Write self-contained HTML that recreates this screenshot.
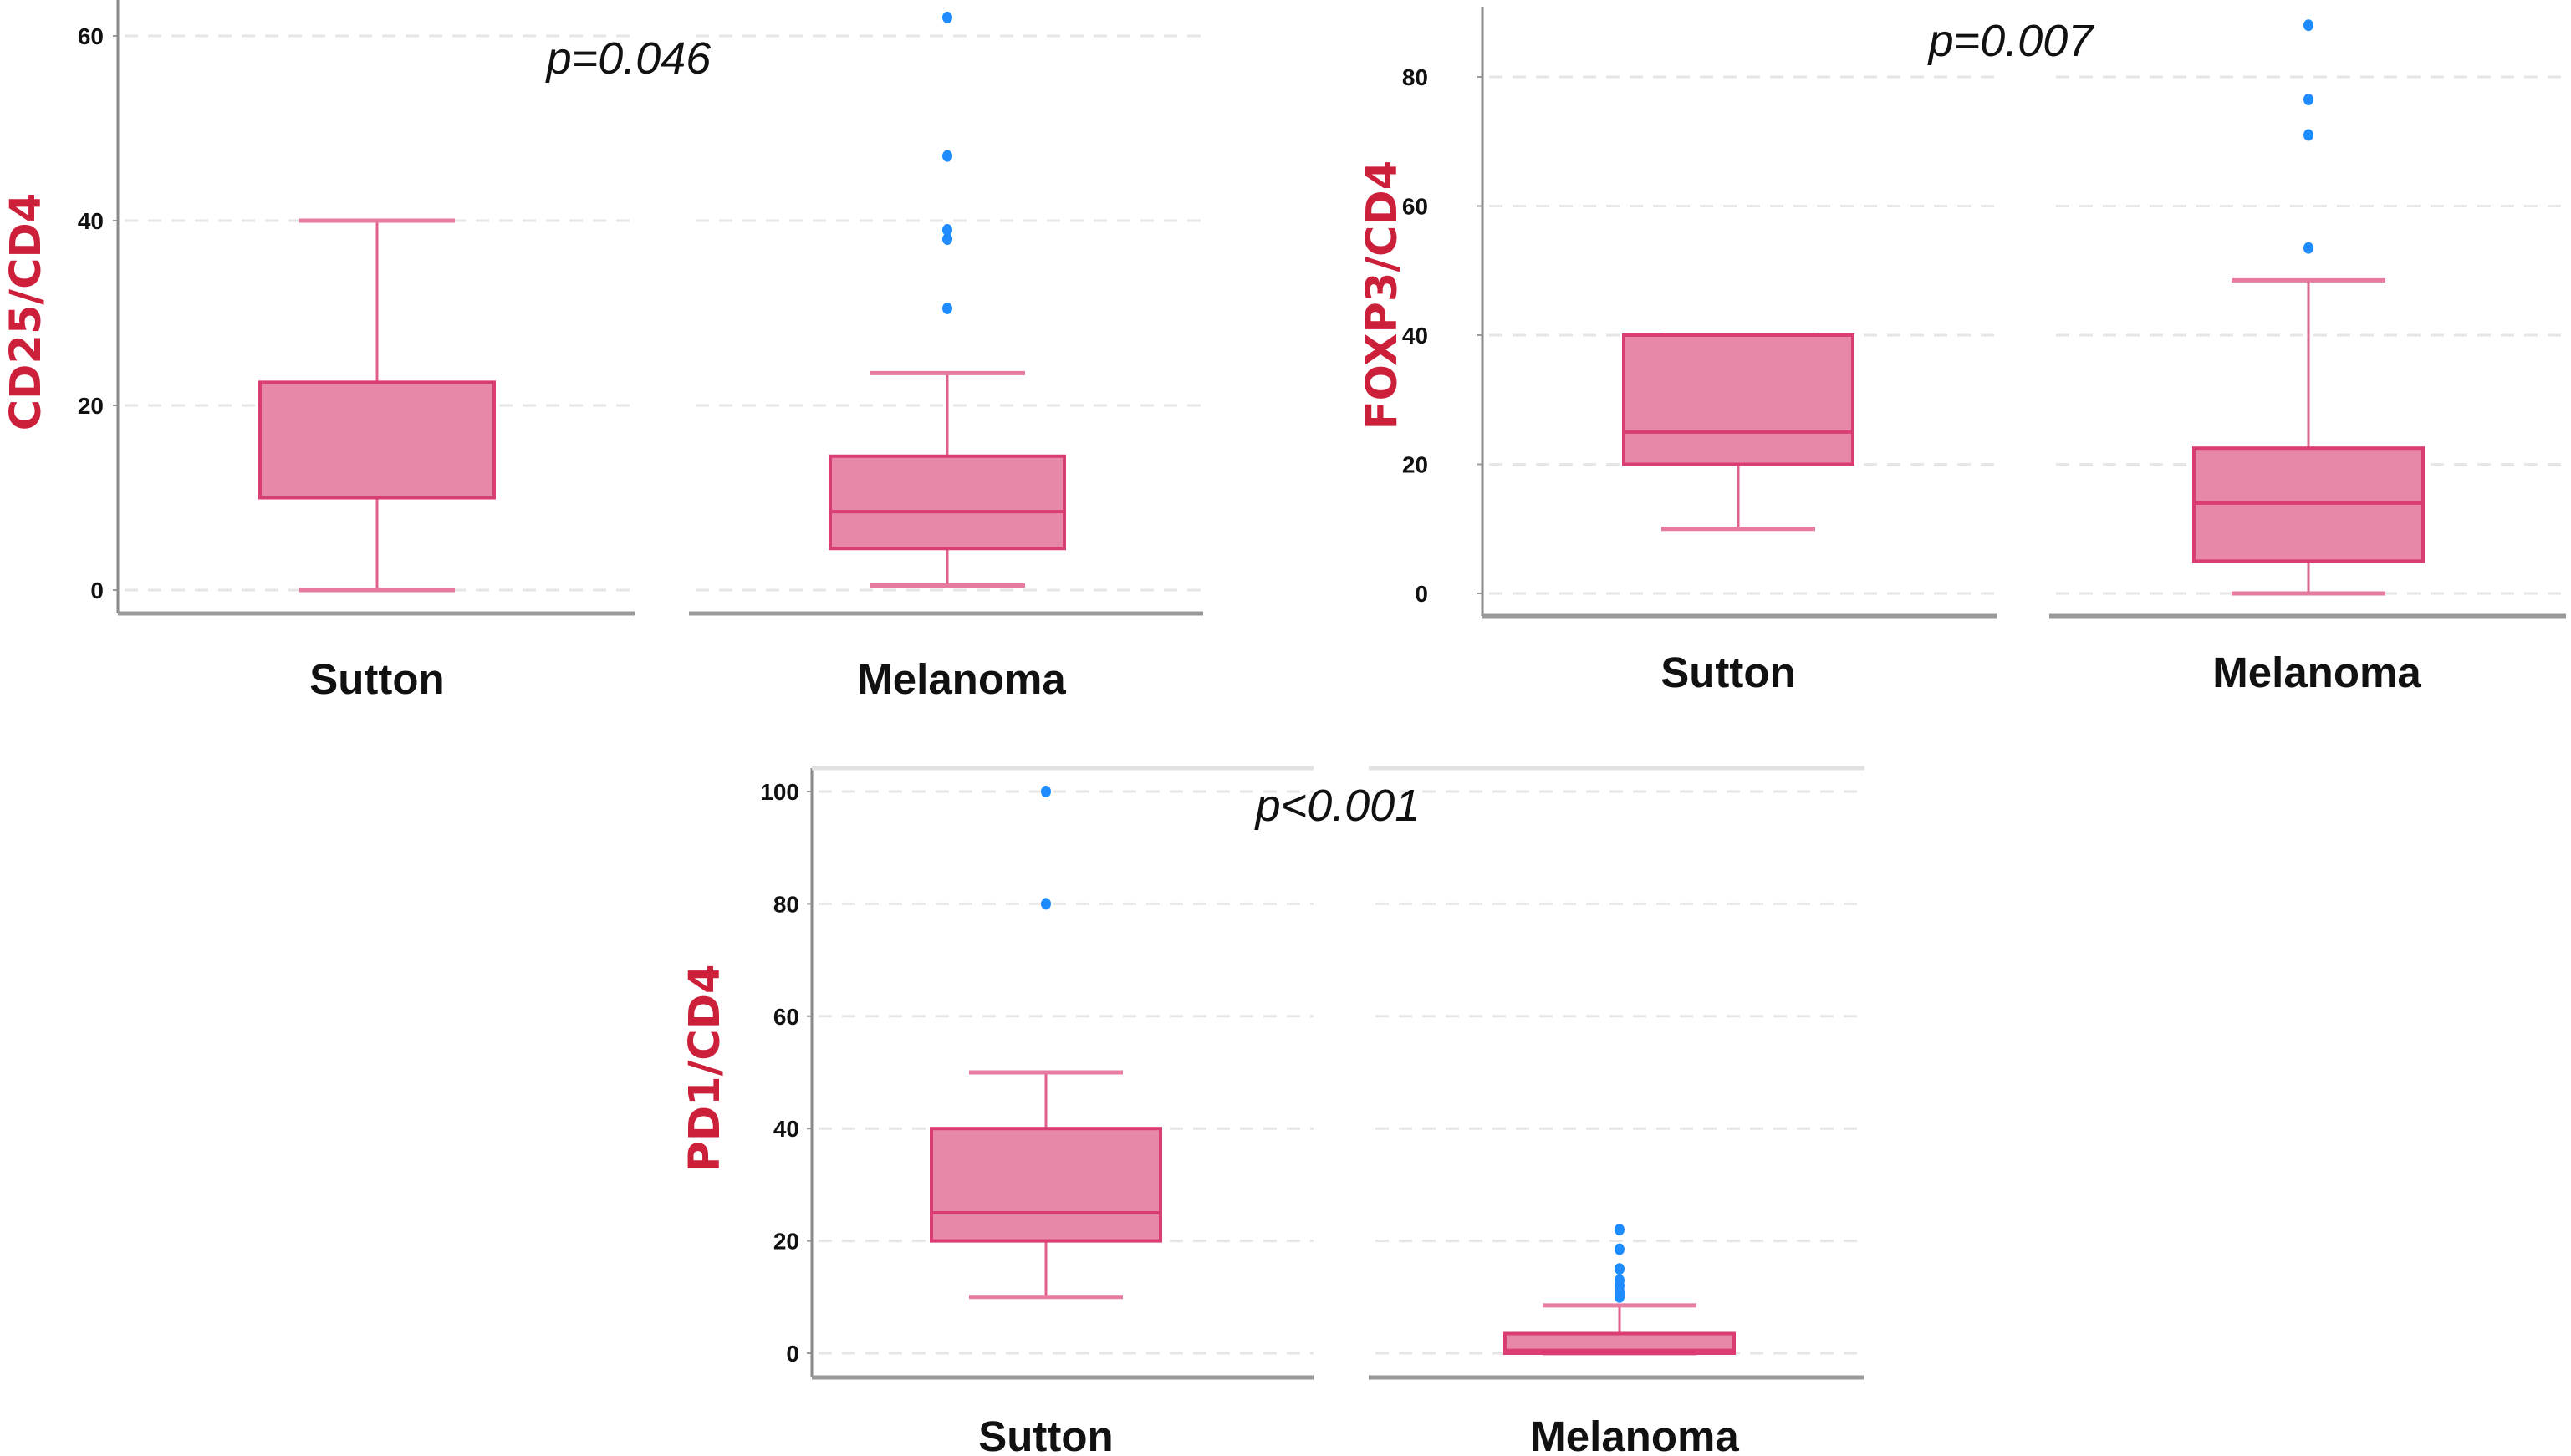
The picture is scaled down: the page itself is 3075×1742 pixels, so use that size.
<!DOCTYPE html>
<html><head><meta charset="utf-8"><style>
html,body{margin:0;padding:0;background:#fff}
svg{display:block}
.tick{font-family:"Liberation Sans Narrow","Liberation Sans",sans-serif;font-weight:bold;font-size:28px;fill:#111}
.cat{font-family:"Liberation Sans Narrow","Liberation Sans",sans-serif;font-weight:bold;font-size:51px;fill:#111}
.ytitle{font-family:"DejaVu Sans","Liberation Sans",sans-serif;font-weight:bold;font-size:51px;fill:#cc1f3a}
.pval{font-family:"Liberation Sans Narrow","Liberation Sans",sans-serif;font-style:italic;font-size:54px;fill:#111}
</style></head><body>
<svg id="chart" width="3075" height="1742" viewBox="0 0 3075 1742" xmlns="http://www.w3.org/2000/svg"></svg>
<script>
// ---- data ----
const categories = ["Sutton", "Melanoma"];
const panelTitles = ["CD25/CD4", "FOXP3/CD4", "PD1/CD4"];
const pValues = ["p=0.046", "p=0.007", "p<0.001"];
const ticksCD25 = [0, 20, 40, 60];
const ticksFOXP3 = [0, 20, 40, 60, 80];
const ticksPD1 = [0, 20, 40, 60, 80, 100];
// [min, q1, median, q3, max]
const cd25Sutton = [0, 10, 10, 22.5, 40];
const cd25Melanoma = [0.5, 4.5, 8.5, 14.5, 23.5];
const cd25SuttonOut = [];
const cd25MelanomaOut = [30.5, 38, 39, 47, 62];
const foxp3Sutton = [10, 20, 25, 40, 40];
const foxp3Melanoma = [0, 5, 14, 22.5, 48.5];
const foxp3SuttonOut = [];
const foxp3MelanomaOut = [53.5, 71, 76.5, 88];
const pd1Sutton = [10, 20, 25, 40, 50];
const pd1Melanoma = [0, 0, 0.5, 3.5, 8.5];
const pd1SuttonOut = [80, 100];
const pd1MelanomaOut = [10, 10.5, 11, 12, 13, 15, 18.5, 22];

const svg = document.getElementById('chart');
const NS = "http://www.w3.org/2000/svg";
function mk(tag, attrs, parent){const e=document.createElementNS(NS,tag);for(const k in attrs)e.setAttribute(k,attrs[k]);(parent||svg).appendChild(e);return e;}

const layouts = [
 {axisX:141, y0:706, yTop:43, vTop:60, bottom:734, topLine:null, axisTop:0,
  segs:[[141,759],[824,1439]], centers:[451,1133], boxHalf:140, capHalf:93,
  labelRight:124, titleX:30, titleY:373, pX:752, pY:88, catY:830,
  catX:[451,1150]},
 {axisX:1773, y0:710, yTop:92, vTop:80, bottom:737, topLine:null, axisTop:8,
  segs:[[1773,2388],[2451,3069]], centers:[2079,2761], boxHalf:137, capHalf:92,
  labelRight:1708, titleX:1652, titleY:353, pX:2405, pY:67, catY:822,
  catX:[2067,2771]},
 {axisX:971, y0:1619, yTop:947, vTop:100, bottom:1648, topLine:919, axisTop:919,
  segs:[[971,1571],[1637,2230]], centers:[1251,1937], boxHalf:137, capHalf:92,
  labelRight:956, titleX:842, titleY:1278, pX:1600, pY:982, catY:1736,
  catX:[1251,1955]}
];
const panelTicks = [ticksCD25, ticksFOXP3, ticksPD1];
const panelBoxes = [[cd25Sutton, cd25Melanoma],[foxp3Sutton, foxp3Melanoma],[pd1Sutton, pd1Melanoma]];
const panelOut = [[cd25SuttonOut, cd25MelanomaOut],[foxp3SuttonOut, foxp3MelanomaOut],[pd1SuttonOut, pd1MelanomaOut]];
const panelNames = ["cd25", "foxp3", "pd1"];

layouts.forEach((L, pi) => {
  const g = mk('g', {});
  
  
  const yS = v => L.y0 - (v / L.vTop) * (L.y0 - L.yTop);
  panelTicks[pi].forEach(t => {
    L.segs.forEach(s => {
      const gl = mk('line', {x1:s[0]+8, x2:s[1], y1:yS(t), y2:yS(t), stroke:'#e6e6e6', 'stroke-width':3, 'stroke-dasharray':'16 12'}, g);
      
      
    });
    const tl = mk('text', {x:L.labelRight, y:yS(t)+10, 'text-anchor':'end', class:'tick'}, g);
    tl.textContent = t;
    
    
    const tk = mk('line', {x1:L.axisX-6, x2:L.axisX, y1:yS(t), y2:yS(t), stroke:'#999', 'stroke-width':2}, g);
    
    
  });
  const ya = mk('line', {x1:L.axisX, x2:L.axisX, y1:L.axisTop, y2:L.bottom, stroke:'#8a8a8a', 'stroke-width':3}, g);
  
  
  L.segs.forEach((s, si) => {
    const xa = mk('line', {x1:s[0], x2:s[1], y1:L.bottom, y2:L.bottom, stroke:'#999', 'stroke-width':5}, g);
    
    
    if (L.topLine !== null) {
      const tl = mk('line', {x1:s[0], x2:s[1], y1:L.topLine, y2:L.topLine, stroke:'#e2e2e2', 'stroke-width':5}, g);
      
      
    }
  });
  panelBoxes[pi].forEach((b, ci) => {
    const cx = L.centers[ci];
    const bg = mk('g', {}, g);
    
    
    mk('line', {x1:cx, x2:cx, y1:yS(b[0]), y2:yS(b[1]), stroke:'#e0608c', 'stroke-width':3}, bg);
    mk('line', {x1:cx, x2:cx, y1:yS(b[3]), y2:yS(b[4]), stroke:'#e0608c', 'stroke-width':3}, bg);
    mk('line', {x1:cx-L.capHalf, x2:cx+L.capHalf, y1:yS(b[0]), y2:yS(b[0]), stroke:'#e77aa0', 'stroke-width':5}, bg);
    mk('line', {x1:cx-L.capHalf, x2:cx+L.capHalf, y1:yS(b[4]), y2:yS(b[4]), stroke:'#e77aa0', 'stroke-width':5}, bg);
    mk('rect', {x:cx-L.boxHalf, y:yS(b[3]), width:2*L.boxHalf, height:Math.max(1,yS(b[1])-yS(b[3])), fill:'#e888a8', stroke:'#d93d74', 'stroke-width':4}, bg);
    mk('line', {x1:cx-L.boxHalf, x2:cx+L.boxHalf, y1:yS(b[2]), y2:yS(b[2]), stroke:'#d93d74', 'stroke-width':4}, bg);
    panelOut[pi][ci].forEach(o => {
      const c = mk('ellipse', {cx:cx, cy:yS(o), rx:6, ry:7, fill:'#1e8cff'}, g);
      
      
    });
    const cl = mk('text', {x:L.catX[ci], y:L.catY, 'text-anchor':'middle', class:'cat'}, g);
    cl.textContent = categories[ci];
    
    
  });
  const tt = mk('text', {x:L.titleX, y:L.titleY, 'text-anchor':'middle', class:'ytitle', transform:'rotate(-90 '+L.titleX+' '+L.titleY+')', dy:'18'}, g);
  tt.textContent = panelTitles[pi];
  
  
  const pv = mk('text', {x:L.pX, y:L.pY, 'text-anchor':'middle', class:'pval'}, g);
  pv.textContent = pValues[pi];
  
  
});
</script>
</body></html>
